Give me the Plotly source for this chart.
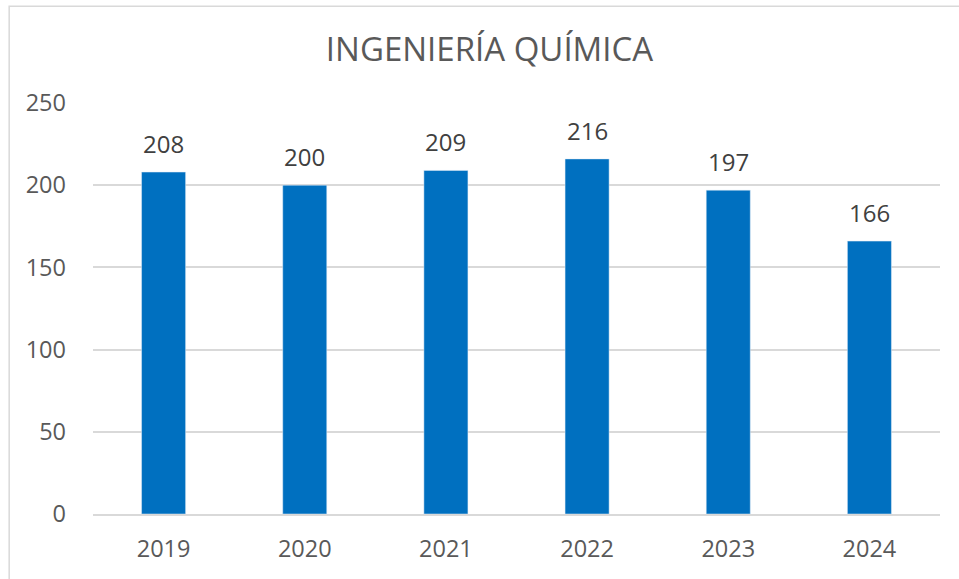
import plotly.graph_objects as go

years = ["2019", "2020", "2021", "2022", "2023", "2024"]
values = [208, 200, 209, 216, 197, 166]
title = "INGENIERÍA QUÍMICA"

W, H = 959, 579
L, R, T, B = 93.3, 18.8, 103.3, 64.5
pw, ph = W - L - R, H - T - B

fig = go.Figure(go.Bar(
    x=years, y=values, marker_color="#0070C0", hoverinfo="x+y",
))

for i, v in enumerate(values):
    fig.add_annotation(x=i, y=v, xref="x", yref="y", text=str(v), showarrow=False,
                       yanchor="bottom", yshift=10, font=dict(size=24, color="#404040"))

def px_x(x):
    return (x - L) / pw

def px_y(y):
    return (H - B - y) / ph

fig.add_shape(type="rect", xref="paper", yref="paper",
              x0=px_x(9.5), x1=px_x(990), y0=px_y(620), y1=px_y(6.5),
              line=dict(color="#D9D9D9", width=1.5), fillcolor="rgba(0,0,0,0)", layer="below")

fig.update_layout(
    width=W, height=H,
    margin=dict(l=L, r=R, t=T, b=B),
    paper_bgcolor="white", plot_bgcolor="white",
    font=dict(family="Open Sans", color="#595959", size=23.5),
    title=dict(text=title, xref="container", x=489.5 / W, xanchor="center",
               y=1 - 49.5 / H, yanchor="middle",
               font=dict(size=33, color="#595959")),
    bargap=0.688,
    showlegend=False,
    xaxis=dict(type="category", range=[-0.5, len(years) - 0.5], showgrid=False,
               showline=True, linecolor="#D9D9D9", linewidth=1.5,
               ticks="", tickfont=dict(size=23.5), ticklabelstandoff=13),
    yaxis=dict(range=[0, 250], tickvals=[0, 50, 100, 150, 200, 250], showgrid=True,
               gridcolor="#D9D9D9", gridwidth=1.5, zeroline=False, showline=False,
               tickfont=dict(size=23.5), ticklabelstandoff=26),
)

fig.write_html("out.html", config={"displayModeBar": False},
               post_script="document.body.style.margin='0';")
